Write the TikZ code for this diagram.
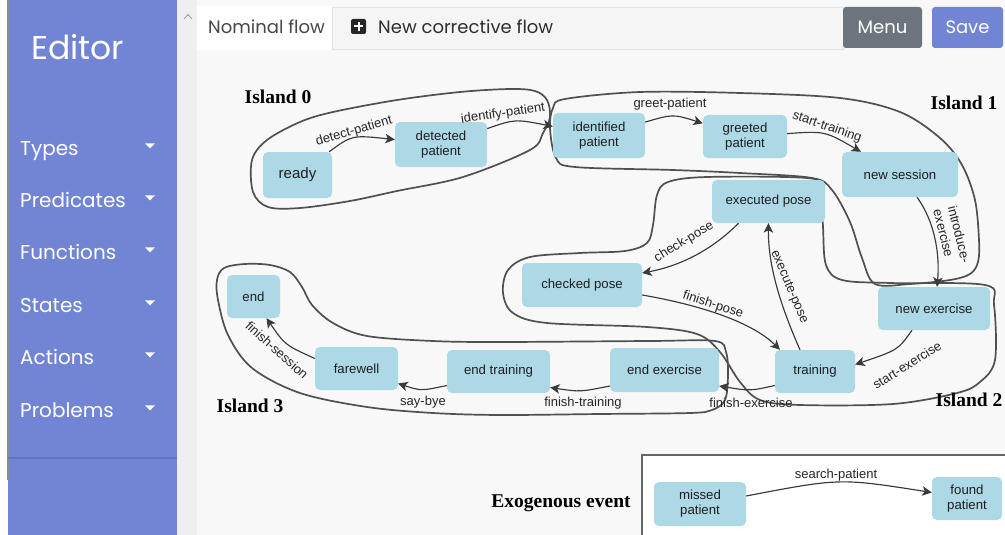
\documentclass[tikz,border=0pt]{standalone}
\usepackage{fontspec}
\setmainfont{Liberation Sans}
\newfontfamily\uifont{Poppins}
\newfontfamily\titlefont{Liberation Serif}
\usetikzlibrary{arrows.meta}

\definecolor{sidebar}{HTML}{7285D4}
\definecolor{sidesep}{HTML}{6374C4}
\definecolor{pagebg}{HTML}{F8F8F8}
\definecolor{trackbg}{HTML}{EFEFEF}
\definecolor{statefill}{HTML}{ADD8E6}
\definecolor{menubtn}{HTML}{6C757D}
\definecolor{tabline}{HTML}{E2E2E2}
\definecolor{tabfill}{HTML}{F5F5F5}
\definecolor{islandline}{HTML}{505050}
\definecolor{edgeline}{HTML}{3A3A3A}
\definecolor{labeltext}{HTML}{262626}

\begin{document}
\begin{tikzpicture}[x=1pt,y=-1pt,
  state/.style={fill=statefill, rounded corners=5pt, inner sep=0pt, align=center,
    text=black!88, font=\fontsize{13.2}{15}\selectfont},
  lab/.style={inner sep=0.5pt, text=labeltext, font=\fontsize{13}{15}\selectfont, align=center},
  trans/.style={draw=edgeline, line width=1.15pt, -{Stealth[length=9.5pt,width=9.5pt,inset=2.5pt]}},
  island/.style={draw=islandline, line width=1.7pt},
  islandname/.style={font=\titlefont\bfseries\fontsize{19.5}{22}\selectfont, text=black, inner sep=0pt},
  menuitem/.style={anchor=base west, inner sep=0pt, text=white, font=\uifont\fontsize{20}{23}\selectfont},
  button/.style={rounded corners=3pt, text=white, inner sep=0pt, font=\uifont\fontsize{18}{20}\selectfont},
  tabtext/.style={anchor=base west, inner sep=0pt, font=\uifont\fontsize{18}{21}\selectfont}
]
\useasboundingbox (0,0) rectangle (1005,535);

% ---------- page background, sidebar and scroll track ----------
\fill[white] (0,0) rectangle (1005,535);
\fill[pagebg] (197,0) rectangle (1005,535);
\fill[trackbg] (177,0) rectangle (197,535);
\fill[sidebar] (8,0) rectangle (177,535);
\draw[black!45, line width=1.2pt] (8,0) -- (8,480);
\draw[sidesep, line width=1.5pt] (8,458) -- (177,458);
\draw[black!35, line width=1pt] (184,19) -- (188,14.5) -- (192,19);

% ---------- sidebar menu ----------
\node[anchor=base west, inner sep=0pt, text=white, font=\uifont\fontsize{33}{36}\selectfont] (editor) at (31,60) {Editor};
\foreach \name/\txt/\b in {types/Types/155, preds/Predicates/207, funcs/Functions/259,
                           states/States/312, actions/Actions/364, probs/Problems/417}{
  \node[menuitem] (\name) at (20,\b) {\txt};
  \fill[white] (145,\b-11.7) -- (155,\b-11.7) -- (150,\b-6.5) -- cycle;
}

% ---------- tab bar and buttons ----------
\fill[white] (197,6) rectangle (332,50);
\draw[tabline, fill=tabfill] (332,7) rectangle (843,49);
\node[tabtext, text=black!72] (tabnominal) at (208,33.5) {Nominal flow};
\fill[black!85, rounded corners=2pt] (351,19) rectangle (366,34);
\draw[white, line width=2pt] (358.5,22) -- (358.5,31) (354,26.5) -- (363,26.5);
\node[tabtext, text=black!82] (tabnew) at (378,33.5) {New corrective flow};
\node[button, fill=menubtn, minimum width=79pt, minimum height=41pt] (menu) at (882.5,27.5) {Menu};
\node[button, fill=sidebar, minimum width=71pt, minimum height=41pt] (save) at (967.5,27.5) {Save};

% ---------- exogenous event frame ----------
\fill[white] (642,455) rectangle (1005,535);
\draw[black!60, line width=1.2pt] (642,535) -- (642,455) -- (1005,455);

% ---------- island outlines ----------
% Island 0
\draw[island] plot[smooth cycle, tension=0.55] coordinates {
  (252,160) (267,140) (300,122) (333,112) (397,100) (460,92) (510,89) (535,91)
  (547,100) (550,117) (543,133) (530,150) (463,177) (397,191) (350,201) (300,208)
  (268,207) (253,192)};
% Island 1
\draw[island] plot[smooth cycle, tension=0.55] coordinates {
  (550,128) (553,108) (565,99) (640,92) (740,93) (840,98) (900,112) (940,138)
  (962,165) (975,200) (979,240) (978,262) (970,274) (950,280) (910,284) (875,284)
  (862,258) (850,222) (832,190) (812,178) (740,173) (673,170) (575,167) (556,158)};
% Island 2
\draw[island] plot[smooth cycle, tension=0.55] coordinates {
  (657,195) (668,182) (707,177) (807,178) (821,188) (823,227) (826,265) (842,280)
  (890,283) (985,285) (994,305) (995,360) (980,382) (957,393) (893,404) (800,405)
  (760,400) (740,382) (720,352) (697,334) (647,327) (547,323) (513,313) (503,293)
  (508,270) (530,257) (580,253) (625,251) (647,243) (653,225)};
% Island 3
\draw[island] plot[smooth cycle, tension=0.55] coordinates {
  (218,300) (217,280) (224,268) (245,264) (270,265) (290,272) (302,287) (312,305)
  (333,323) (367,336) (433,341) (500,342) (650,341) (715,341) (726,352) (728,375)
  (725,400) (712,410) (690,413) (600,414) (500,415) (433,413) (367,407) (300,393)
  (252,368) (228,335)};

% ---------- island captions ----------
\node[islandname] (isl0) at (278,97) {Island 0};
\node[islandname] (isl1) at (964,103) {Island 1};
\node[islandname] (isl2) at (969,400) {Island 2};
\node[islandname] (isl3) at (250,406) {Island 3};
\node[islandname] (exo) at (561,503) {Exogenous event};

% ---------- states ----------
\node[state, minimum width=69pt, minimum height=46pt, font=\fontsize{15}{17}\selectfont] (ready) at (297.5,175) {ready};
\node[state, minimum width=92pt, minimum height=45pt] (detected) at (441,144.5) {detected\\patient};
\node[state, minimum width=92pt, minimum height=45pt] (identified) at (599,135.5) {identified\\patient};
\node[state, minimum width=84pt, minimum height=43pt] (greeted) at (745,136.5) {greeted\\patient};
\node[state, minimum width=116pt, minimum height=45pt] (session) at (900,174.5) {new session};
\node[state, minimum width=113pt, minimum height=43pt] (executed) at (768.5,201.5) {executed pose};
\node[state, minimum width=120pt, minimum height=44pt] (checked) at (582,285) {checked pose};
\node[state, minimum width=112pt, minimum height=43pt] (newex) at (934,308.5) {new exercise};
\node[state, minimum width=80pt, minimum height=43pt] (training) at (815,371.5) {training};
\node[state, minimum width=109pt, minimum height=44pt] (endex) at (664.5,370) {end exercise};
\node[state, minimum width=103pt, minimum height=43pt] (endtr) at (498.5,371.5) {end training};
\node[state, minimum width=83pt, minimum height=43pt] (farewell) at (356.5,368.5) {farewell};
\node[state, minimum width=53pt, minimum height=43pt] (end) at (253.5,296.5) {end};
\node[state, minimum width=92pt, minimum height=44pt] (missed) at (700,504) {missed\\patient};
\node[state, minimum width=70pt, minimum height=43pt] (found) at (967,498.5) {found\\patient};

% ---------- transitions ----------
\draw[trans] (ready) .. controls (352,135) .. (detected);
\draw[trans] (detected) .. controls (515,119) .. (identified);
\draw[trans] (identified) .. controls (673,114) .. (greeted);
\draw[trans] (greeted) .. controls (825,131) .. (session);
\draw[trans] ([xshift=17pt]session.south) .. controls (935,222) and (940,255) .. ([xshift=3pt]newex.north);
\draw[trans] ([xshift=-22pt]newex.south) .. controls (898,350) .. ([yshift=7pt]training.east);
\draw[trans] ([xshift=-15pt]training.north) .. controls (778,300) and (768,262) .. (executed.south);
\draw[trans] ([xshift=-30pt]executed.south) .. controls (712,250) and (680,266) .. ([yshift=12pt]checked.east);
\draw[trans] ([yshift=-10pt]checked.east) .. controls (700,305) and (752,322) .. ([xshift=-35pt]training.north);
\draw[trans] ([yshift=-14pt]training.west) .. controls (750,391) .. ([yshift=-16pt]endex.east);
\draw[trans] ([yshift=-16pt]endex.west) .. controls (580,392) .. ([yshift=-16pt]endtr.east);
\draw[trans] ([yshift=-14pt]endtr.west) .. controls (421,391) .. ([yshift=-15pt]farewell.east);
\draw[trans] ([yshift=10pt]farewell.west) .. controls (285,345) .. ([xshift=13pt]end.south);
\draw[trans] ([yshift=8pt]missed.east) .. controls (840,478) .. ([yshift=6pt]found.west);

% ---------- transition labels ----------
\node[lab, rotate=16] (l-detect) at (354,131) {detect-patient};
\node[lab, rotate=8] (l-identify) at (503,114) {identify-patient};
\node[lab] (l-greet) at (670,104) {greet-patient};
\node[lab, rotate=-19] (l-start) at (827,127) {start-training};
\node[lab, rotate=-76, align=left] (l-intro) at (952,236) {introduce-\\exercise};
\node[lab, rotate=32] (l-startex) at (907,365) {start-exercise};
\node[lab, rotate=-67] (l-exec) at (789,287) {execute-pose};
\node[lab, rotate=31] (l-check) at (684,242) {check-pose};
\node[lab, rotate=-18] (l-finpose) at (713,305) {finish-pose};
\node[lab] (l-finex) at (751,403) {finish-exercise};
\node[lab] (l-fintr) at (583,403) {finish-training};
\node[lab] (l-bye) at (423,402) {say-bye};
\node[lab, rotate=-42] (l-finsess) at (277,350) {finish-session};
\node[lab] (l-search) at (836,475) {search-patient};
\end{tikzpicture}
\end{document}
